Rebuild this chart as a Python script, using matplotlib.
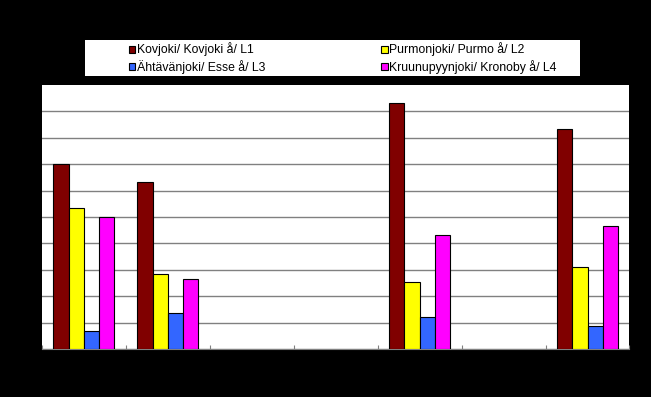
import numpy as np
import matplotlib.pyplot as plt
from matplotlib.patches import Rectangle

plt.rcParams['font.family'] = ['Liberation Sans', 'DejaVu Sans']

# seven sampling occasions, values in gridline units (labels not readable)
series_names = ["Kovjoki/ Kovjoki å/ L1", "Purmonjoki/ Purmo å/ L2",
                "Ähtävänjoki/ Esse å/ L3", "Kruunupyynjoki/ Kronoby å/ L4"]
L1 = [7.0, 6.31, np.nan, np.nan, 9.32, np.nan, 8.31]
L2 = [5.33, 2.83, np.nan, np.nan, 2.55, np.nan, 3.12]
L3 = [0.70, 1.36, np.nan, np.nan, 1.21, np.nan, 0.88]
L4 = [5.0, 2.67, np.nan, np.nan, 4.31, np.nan, 4.66]
colors = ["#800000", "#FFFF00", "#3366FF", "#FF00FF"]

fig = plt.figure(figsize=(6.51, 3.97), dpi=100)
fig.patch.set_facecolor("black")
ax = fig.add_axes([42/651, 1-349.3/397, 587.5/651, 264.6/397])
ax.set_facecolor("white")

x = np.arange(len(L1))
w = 1/5.5
bars = []
for i, (vals, c) in enumerate(zip([L1, L2, L3, L4], colors)):
    b = ax.bar(x + (i - 1.5)*w, vals, width=w, color=c, edgecolor="black",
               linewidth=0.8, label=series_names[i], zorder=3)
    bars.append(b)

ax.set_xlim(-0.5, len(L1)-0.5)
ax.set_ylim(0, 10)
ax.set_yticks(np.arange(0, 10, 1))
ax.grid(axis="y", color="#808080", linewidth=1, zorder=0)
ax.set_xticks(np.arange(-0.5, len(L1), 1))
ax.tick_params(axis="x", direction="in", length=3, color="#808080",
               labelbottom=False)
ax.tick_params(axis="y", length=0, labelleft=False)
for s in ["top", "right", "left"]:
    ax.spines[s].set_visible(False)
ax.spines["bottom"].set_color("#808080")

# legend box
fig.patches.append(Rectangle((85/651, 1-76/397), 495/651, 36/397,
                             transform=fig.transFigure, facecolor="white",
                             edgecolor="none"))
handles = [bars[0], bars[2], bars[1], bars[3]]
labels = [series_names[0], series_names[2], series_names[1], series_names[3]]
leg = fig.legend(handles, labels, loc="upper left",
                 bbox_to_anchor=(129/651, 1-42.5/397), ncol=2, frameon=False,
                 fontsize=8.8, handlelength=0.5, handleheight=0.5,
                 handletextpad=0.15, columnspacing=9.5, labelspacing=0.28,
                 borderpad=0, borderaxespad=0)

plt.savefig("out.png", dpi=100, facecolor="black")
